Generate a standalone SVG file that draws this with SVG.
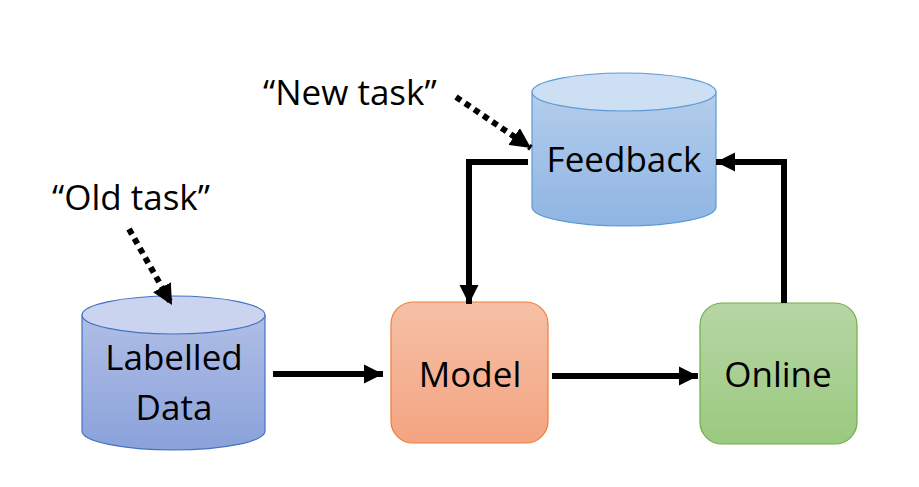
<svg xmlns="http://www.w3.org/2000/svg" width="919" height="487" viewBox="0 0 919 487">
<defs>
<linearGradient id="gLab" x1="0" y1="0" x2="0" y2="1">
<stop offset="0" stop-color="#b0bee6"/><stop offset="1" stop-color="#8aa1da"/>
</linearGradient>
<linearGradient id="gFb" x1="0" y1="0" x2="0" y2="1">
<stop offset="0" stop-color="#b3cdec"/><stop offset="1" stop-color="#8fb5e3"/>
</linearGradient>
<linearGradient id="gModel" x1="0" y1="0" x2="0" y2="1">
<stop offset="0" stop-color="#f6c0a6"/><stop offset="1" stop-color="#f4a481"/>
</linearGradient>
<linearGradient id="gOnline" x1="0" y1="0" x2="0" y2="1">
<stop offset="0" stop-color="#b6d6a5"/><stop offset="1" stop-color="#9bc980"/>
</linearGradient>
<marker id="ah" viewBox="0 0 10 10" refX="10" refY="5" markerWidth="3.2" markerHeight="3.2" markerUnits="strokeWidth" orient="auto">
<path d="M0,0 L10,5 L0,10 Z" fill="#000"/>
</marker>
<marker id="ahd" viewBox="0 0 10 10" refX="10" refY="5" markerWidth="3.4" markerHeight="3.4" markerUnits="strokeWidth" orient="auto">
<path d="M0,0 L10,5 L0,10 Z" fill="#000"/>
</marker>
</defs>
<style>
text{font-family:"Open Sans","Noto Sans","Liberation Sans",sans-serif;font-size:35px;fill:#000;text-anchor:middle}
.lbl{text-anchor:start}
.conn{fill:none;stroke:#000;stroke-width:6}
.dot{fill:none;stroke:#000;stroke-width:6;stroke-dasharray:6 5}
</style>
<rect width="919" height="487" fill="#fff"/>

<g id="labelled-data">
<path d="M82,315 L82,431 A91.5,19 0 0 0 265,431 L265,315 Z" fill="url(#gLab)" stroke="#4472c4" stroke-width="1.2"/>
<ellipse cx="173.5" cy="315" rx="91.5" ry="19" fill="#cbd4ee" stroke="#4472c4" stroke-width="1.2"/>
<text x="174" y="370">Labelled</text>
<text x="174" y="420">Data</text>
</g>

<g id="feedback">
<path d="M532,92 L532,207 A92,19 0 0 0 716,207 L716,92 Z" fill="url(#gFb)" stroke="#5b9bd5" stroke-width="1.2"/>
<ellipse cx="624" cy="92" rx="92" ry="19" fill="#cddff2" stroke="#5b9bd5" stroke-width="1.2"/>
<text x="624" y="172">Feedback</text>
</g>

<g id="model">
<rect x="391" y="302" width="157" height="141" rx="22" fill="url(#gModel)" stroke="#ed7d31" stroke-width="1.2"/>
<text x="470" y="387">Model</text>
</g>

<g id="online">
<rect x="700" y="303" width="157" height="141" rx="22" fill="url(#gOnline)" stroke="#70ad47" stroke-width="1.2"/>
<text x="778" y="387">Online</text>
</g>

<g id="old-task"><text class="lbl" x="52" y="210">“Old task”</text></g>
<g id="new-task"><text class="lbl" x="263" y="105">“New task”</text></g>

<g id="connectors">
<path class="conn" d="M273,374 L383,374" marker-end="url(#ah)"/>
<path class="conn" d="M552,376 L698,376" marker-end="url(#ah)"/>
<path class="conn" d="M784,303 L784,162 L716,162" marker-end="url(#ah)"/>
<path class="conn" d="M528,162 L469,162 L469,304" marker-end="url(#ah)"/>
<path class="dot" d="M129,229 L172,305" marker-end="url(#ahd)"/>
<path class="dot" d="M456,97 L531,148" marker-end="url(#ahd)"/>
</g>
</svg>
